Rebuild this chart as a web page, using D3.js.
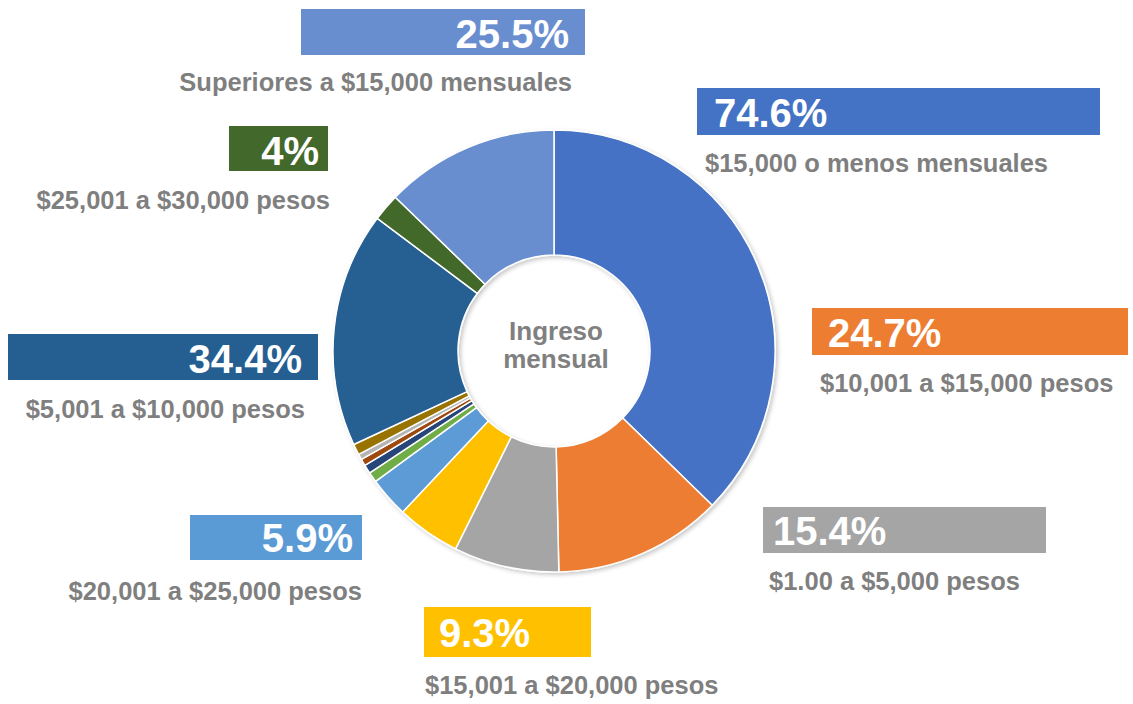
<!DOCTYPE html>
<html>
<head>
<meta charset="utf-8">
<script src="https://cdn.jsdelivr.net/npm/d3@7"></script>
<style>
  html, body { margin: 0; padding: 0; background: #ffffff; }
  svg { display: block; font-family: "Liberation Sans", Arial, sans-serif; }
</style>
</head>
<body>
<svg id="chart" width="1133" height="704"></svg>
<script>
// ---- data ----
const categories = [
  "$15,000 o menos mensuales",
  "$10,001 a $15,000 pesos",
  "$1.00 a $5,000 pesos",
  "$15,001 a $20,000 pesos",
  "$20,001 a $25,000 pesos",
  "Otro rango A",
  "Otro rango B",
  "Otro rango C",
  "Otro rango D",
  "Otro rango E",
  "$5,001 a $10,000 pesos",
  "$25,001 a $30,000 pesos",
  "Superiores a $15,000 mensuales"
];
const values = [74.6, 24.7, 15.4, 9.3, 5.9, 1.5, 1.3, 1.0, 0.8, 1.6, 34.4, 4, 25.5];
const labeledCategories = [
  "Superiores a $15,000 mensuales",
  "$15,000 o menos mensuales",
  "$25,001 a $30,000 pesos",
  "$5,001 a $10,000 pesos",
  "$10,001 a $15,000 pesos",
  "$1.00 a $5,000 pesos",
  "$20,001 a $25,000 pesos",
  "$15,001 a $20,000 pesos"
];
const centerTitle = ["Ingreso", "mensual"];

// ---- styles ----
const palette = ["#4472C4", "#ED7D31", "#A5A5A5", "#FFC000", "#5B9BD5", "#70AD47",
                 "#264478", "#9E480E", "#B5B5B5", "#997300", "#255E91", "#43682B", "#698ED0"];

// ---- layout of callout boxes (x0, y0, x1, y1), text anchors ----
const labelLayout = {
  "Superiores a $15,000 mensuales": {box:[301, 9, 585, 55],   anchor:"end",   tx:569, ty:48,  lx:572, ly:91},
  "$15,000 o menos mensuales":      {box:[697, 88, 1100, 135], anchor:"start", tx:714, ty:127, lx:705, ly:172},
  "$25,001 a $30,000 pesos":        {box:[229, 126, 328, 171], anchor:"end",   tx:319, ty:165, lx:330, ly:209},
  "$5,001 a $10,000 pesos":         {box:[8, 334, 318, 380],   anchor:"end",   tx:302, ty:373, lx:305, ly:418},
  "$10,001 a $15,000 pesos":        {box:[812, 308, 1128, 355], anchor:"start", tx:828, ty:347, lx:820, ly:392},
  "$1.00 a $5,000 pesos":           {box:[763, 507, 1046, 553], anchor:"start", tx:773, ty:545, lx:769, ly:590},
  "$20,001 a $25,000 pesos":        {box:[190, 515, 362, 560], anchor:"end",   tx:353, ty:552, lx:362, ly:600},
  "$15,001 a $20,000 pesos":        {box:[424, 607, 591, 657], anchor:"start", tx:439, ty:647, lx:425, ly:694}
};

const cx = 554, cy = 351, rOuter = 221, rInner = 96;

const svg = d3.select("#chart");
const color = d3.scaleOrdinal().domain(categories).range(palette);

const defs = svg.append("defs");
const f = defs.append("filter").attr("id", "shadow")
  .attr("x", "-10%").attr("y", "-10%").attr("width", "120%").attr("height", "120%");
f.append("feDropShadow").attr("dx", 2).attr("dy", 2).attr("stdDeviation", 2)
  .attr("flood-color", "#000").attr("flood-opacity", 0.22);

const data = categories.map((c, i) => ({cat: c, value: values[i]}));
const pie = d3.pie().value(d => d.value).sort(null).startAngle(0).endAngle(2 * Math.PI);
const arc = d3.arc().innerRadius(rInner).outerRadius(rOuter);

const g = svg.append("g").attr("transform", `translate(${cx},${cy})`).attr("filter", "url(#shadow)");
g.selectAll("path").data(pie(data)).join("path")
  .attr("d", arc)
  .attr("fill", d => color(d.data.cat))
  .attr("stroke", "#ffffff")
  .attr("stroke-width", 1.5)
  .attr("stroke-linejoin", "round");

// center title
svg.append("g").selectAll("text").data(centerTitle).join("text")
  .attr("x", cx + 2)
  .attr("y", (d, i) => 340 + i * 28)
  .attr("text-anchor", "middle")
  .attr("font-weight", "bold")
  .attr("font-size", 26)
  .attr("fill", "#808080")
  .text(d => d);

// callouts
const valueByCat = new Map(data.map(d => [d.cat, d.value]));
const callouts = svg.append("g").selectAll("g").data(labeledCategories).join("g");
callouts.append("rect")
  .attr("x", d => labelLayout[d].box[0])
  .attr("y", d => labelLayout[d].box[1])
  .attr("width", d => labelLayout[d].box[2] - labelLayout[d].box[0])
  .attr("height", d => labelLayout[d].box[3] - labelLayout[d].box[1])
  .attr("fill", d => color(d));
callouts.append("text")
  .attr("x", d => labelLayout[d].tx)
  .attr("y", d => labelLayout[d].ty)
  .attr("text-anchor", d => labelLayout[d].anchor)
  .attr("font-weight", "bold")
  .attr("font-size", 40)
  .attr("fill", "#ffffff")
  .text(d => valueByCat.get(d) + "%");
callouts.append("text")
  .attr("x", d => labelLayout[d].lx)
  .attr("y", d => labelLayout[d].ly)
  .attr("text-anchor", d => labelLayout[d].anchor)
  .attr("font-weight", "bold")
  .attr("font-size", 25.5)
  .attr("fill", "#7F7F7F")
  .text(d => d);
</script>
</body>
</html>
